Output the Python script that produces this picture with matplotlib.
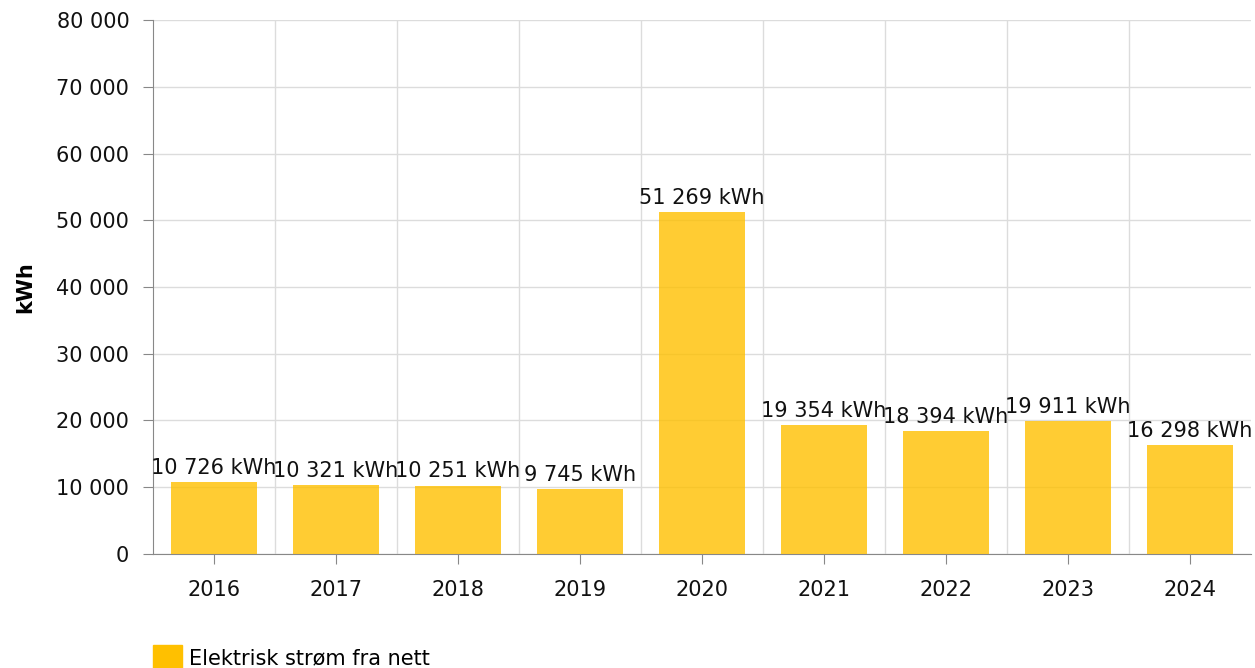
import matplotlib
matplotlib.use("Agg")
import matplotlib.pyplot as plt
import matplotlib.patches as mpatches
from matplotlib.ticker import FuncFormatter, MultipleLocator

# ── Data ─────────────────────────────────────────────────────
years = ["2016", "2017", "2018", "2019", "2020", "2021", "2022", "2023", "2024"]
kwh = [10726, 10321, 10251, 9745, 51269, 19354, 18394, 19911, 16298]
series_name = "Elektrisk strøm fra nett"

plt.rcParams["font.family"] = "DejaVu Sans"

def fmt(v):
    return f"{int(v):,}".replace(",", " ")

fig = plt.figure(figsize=(12.55, 6.68), dpi=100)
ax = fig.add_axes([0.1219, 0.1707, 0.8749, 0.7993])

x = range(len(years))
ax.bar(x, kwh, width=0.7, color="#ffc000", alpha=0.8, zorder=3)

for i, v in enumerate(kwh):
    ax.annotate(f"{fmt(v)} kWh", (i, v), xytext=(0, 3), textcoords="offset points",
                ha="center", va="bottom", fontsize=15, color="#111", zorder=4)

ax.set_xlim(-0.5, len(years) - 0.5)
ax.set_ylim(0, 80000)
ax.yaxis.set_major_locator(MultipleLocator(10000))
ax.yaxis.set_major_formatter(FuncFormatter(lambda v, p: fmt(v)))
ax.set_xticks(list(x))
ax.set_xticklabels(years)

# vertical grid at category boundaries
ax.set_xticks([i + 0.5 for i in range(len(years) - 1)], minor=True)
ax.grid(axis="x", which="minor", color="#dcdcdc", linewidth=1, zorder=0)
ax.grid(axis="y", which="major", color="#dcdcdc", linewidth=1, zorder=0)
ax.tick_params(axis="x", which="minor", length=0)
ax.tick_params(axis="both", which="major", labelsize=15, length=7, color="#888",
               labelcolor="#111")
ax.tick_params(axis="x", which="major", pad=12)
ax.tick_params(axis="y", which="major", pad=10)

for s in ["top", "right"]:
    ax.spines[s].set_visible(False)
for s in ["left", "bottom"]:
    ax.spines[s].set_color("#888")

ax.set_ylabel("kWh", fontsize=15, fontweight="bold")
ax.yaxis.set_label_coords(-0.107, 0.5)

patch = mpatches.Patch(color="#ffc000", label=series_name)
fig.legend(handles=[patch], loc="lower left", bbox_to_anchor=(0.107, -0.03),
           frameon=False, fontsize=15, handlelength=1.4, handleheight=1.4,
           handletextpad=0.35)

plt.savefig("out.png", dpi=100)
